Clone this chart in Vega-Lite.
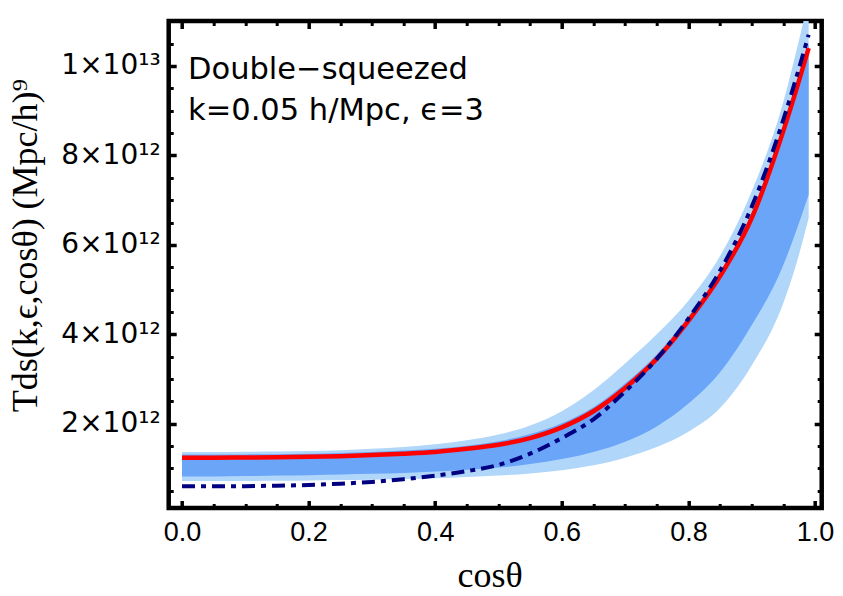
{
  "$schema": "https://vega.github.io/schema/vega-lite/v6.json",
  "width": 653,
  "height": 487,
  "autosize": "none",
  "padding": {"left": 168.7, "top": 21, "right": 21.3, "bottom": 88},
  "background": "white",
  "datasets": {
    "curves": [
      {"c": 0.00, "llo": 0.72e12, "lhi": 1.37e12, "dlo": 0.82e12, "dhi": 1.31e12, "red": 1.24e12, "navy": 0.60e12},
      {"c": 0.05, "llo": 0.72e12, "lhi": 1.37e12, "dlo": 0.82e12, "dhi": 1.31e12, "red": 1.24e12, "navy": 0.60e12},
      {"c": 0.10, "llo": 0.72e12, "lhi": 1.375e12, "dlo": 0.83e12, "dhi": 1.315e12, "red": 1.245e12, "navy": 0.605e12},
      {"c": 0.15, "llo": 0.725e12, "lhi": 1.38e12, "dlo": 0.84e12, "dhi": 1.32e12, "red": 1.25e12, "navy": 0.615e12},
      {"c": 0.20, "llo": 0.73e12, "lhi": 1.39e12, "dlo": 0.85e12, "dhi": 1.33e12, "red": 1.26e12, "navy": 0.63e12},
      {"c": 0.25, "llo": 0.74e12, "lhi": 1.41e12, "dlo": 0.865e12, "dhi": 1.345e12, "red": 1.275e12, "navy": 0.66e12},
      {"c": 0.30, "llo": 0.75e12, "lhi": 1.44e12, "dlo": 0.88e12, "dhi": 1.37e12, "red": 1.30e12, "navy": 0.70e12},
      {"c": 0.35, "llo": 0.765e12, "lhi": 1.48e12, "dlo": 0.90e12, "dhi": 1.40e12, "red": 1.33e12, "navy": 0.76e12},
      {"c": 0.40, "llo": 0.78e12, "lhi": 1.54e12, "dlo": 0.93e12, "dhi": 1.44e12, "red": 1.37e12, "navy": 0.84e12},
      {"c": 0.45, "llo": 0.81e12, "lhi": 1.63e12, "dlo": 0.97e12, "dhi": 1.51e12, "red": 1.44e12, "navy": 0.94e12},
      {"c": 0.50, "llo": 0.84e12, "lhi": 1.76e12, "dlo": 1.02e12, "dhi": 1.61e12, "red": 1.53e12, "navy": 1.08e12},
      {"c": 0.55, "llo": 0.89e12, "lhi": 1.96e12, "dlo": 1.10e12, "dhi": 1.77e12, "red": 1.68e12, "navy": 1.33e12},
      {"c": 0.60, "llo": 0.96e12, "lhi": 2.28e12, "dlo": 1.21e12, "dhi": 2.01e12, "red": 1.92e12, "navy": 1.68e12},
      {"c": 0.65, "llo": 1.07e12, "lhi": 2.75e12, "dlo": 1.37e12, "dhi": 2.37e12, "red": 2.28e12, "navy": 2.10e12},
      {"c": 0.70, "llo": 1.24e12, "lhi": 3.35e12, "dlo": 1.60e12, "dhi": 2.90e12, "red": 2.80e12, "navy": 2.72e12},
      {"c": 0.75, "llo": 1.48e12, "lhi": 4.00e12, "dlo": 1.94e12, "dhi": 3.55e12, "red": 3.45e12, "navy": 3.45e12},
      {"c": 0.80, "llo": 1.82e12, "lhi": 4.75e12, "dlo": 2.45e12, "dhi": 4.40e12, "red": 4.30e12, "navy": 4.35e12},
      {"c": 0.85, "llo": 2.35e12, "lhi": 5.75e12, "dlo": 3.15e12, "dhi": 5.40e12, "red": 5.30e12, "navy": 5.42e12},
      {"c": 0.90, "llo": 3.30e12, "lhi": 7.20e12, "dlo": 4.20e12, "dhi": 6.70e12, "red": 6.60e12, "navy": 6.85e12},
      {"c": 0.95, "llo": 4.70e12, "lhi": 9.20e12, "dlo": 5.55e12, "dhi": 8.65e12, "red": 8.55e12, "navy": 8.80e12},
      {"c": 0.97, "llo": 5.55e12, "lhi": 10.3e12, "dlo": 6.30e12, "dhi": 9.55e12, "red": 9.45e12, "navy": 9.72e12},
      {"c": 0.99, "llo": 6.60e12, "lhi": 11.5e12, "dlo": 7.12e12, "dhi": 10.5e12, "red": 10.4e12, "navy": 10.7e12}
    ]
  },
  "layer": [
    {
      "data": {"name": "curves"},
      "mark": {"type": "area", "color": "#b0d6fa", "clip": true, "opacity": 1, "interpolate": "monotone"},
      "encoding": {
        "x": {"field": "c", "type": "quantitative",
          "scale": {"domain": [-0.021, 1.0106], "nice": false, "zero": false},
          "axis": {
            "orient": "bottom",
            "values": [0, 0.05, 0.1, 0.15, 0.2, 0.25, 0.3, 0.35, 0.4, 0.45, 0.5, 0.55, 0.6, 0.65, 0.7, 0.75, 0.8, 0.85, 0.9, 0.95, 1],
            "domain": false, "grid": false,
            "tickColor": "black",
            "tickSize": {"condition": {"test": "abs(datum.value*5-round(datum.value*5))<0.001", "value": -7.5}, "value": -4.5},
            "tickWidth": {"condition": {"test": "abs(datum.value*5-round(datum.value*5))<0.001", "value": 3.5}, "value": 3},
            "labelExpr": "abs(datum.value*5-round(datum.value*5))<0.001 ? format(datum.value,'.1f') : ''",
            "labelFont": "Liberation Sans", "labelFontSize": 27, "labelColor": "black", "labelPadding": 19,
            "labelOverlap": false, "labelFlush": false, "labelBound": false,
            "title": "cosθ", "titleFont": "Liberation Serif", "titleFontSize": 36, "titleFontWeight": "normal", "titleColor": "black",
            "titleX": 321, "titleY": 78, "titleAlign": "center", "titleBaseline": "alphabetic"
          }
        },
        "y": {"field": "llo", "type": "quantitative",
          "scale": {"domain": [0.116e12, 11.006e12], "nice": false, "zero": false},
          "axis": {
            "orient": "left",
            "values": [0.5e12, 1e12, 1.5e12, 2e12, 2.5e12, 3e12, 3.5e12, 4e12, 4.5e12, 5e12, 5.5e12, 6e12, 6.5e12, 7e12, 7.5e12, 8e12, 8.5e12, 9e12, 9.5e12, 10e12, 10.5e12],
            "domain": false, "grid": false,
            "tickColor": "black",
            "tickSize": {"condition": {"test": "datum.value % 2e12 == 0", "value": -7.5}, "value": -4.5},
            "tickWidth": {"condition": {"test": "datum.value % 2e12 == 0", "value": 3.5}, "value": 3},
            "labelExpr": "datum.value % 2e12 == 0 ? (datum.value == 1e13 ? '1×10¹³' : format(datum.value/1e12,'d') + '×10¹²') : ''",
            "labelFont": "DejaVu Sans", "labelFontSize": 28, "labelColor": "black", "labelPadding": 16,
            "labelOverlap": false, "labelFlush": false, "labelBound": false, "labelLimit": 300,
            "title": "Tds(k,ϵ,cosθ)  (Mpc/h)⁹", "titleFont": "Liberation Serif", "titleFontSize": 36, "titleFontWeight": "normal", "titleColor": "black",
            "titleAngle": 270, "titleX": -132, "titleY": 224, "titleAlign": "center", "titleBaseline": "alphabetic"
          }
        },
        "y2": {"field": "lhi"}
      }
    },
    {
      "data": {"name": "curves"},
      "mark": {"type": "area", "color": "#6aa5f8", "clip": true, "opacity": 1, "interpolate": "monotone"},
      "encoding": {
        "x": {"field": "c", "type": "quantitative",
          "scale": {"domain": [-0.021, 1.0106], "nice": false, "zero": false},
          "axis": {
            "orient": "top",
            "values": [0, 0.05, 0.1, 0.15, 0.2, 0.25, 0.3, 0.35, 0.4, 0.45, 0.5, 0.55, 0.6, 0.65, 0.7, 0.75, 0.8, 0.85, 0.9, 0.95, 1],
            "domain": false, "grid": false, "labels": false, "title": null,
            "tickColor": "black",
            "tickSize": {"condition": {"test": "abs(datum.value*5-round(datum.value*5))<0.001", "value": -7.5}, "value": -4.5},
            "tickWidth": {"condition": {"test": "abs(datum.value*5-round(datum.value*5))<0.001", "value": 3.5}, "value": 3}
          }
        },
        "y": {"field": "dlo", "type": "quantitative",
          "scale": {"domain": [0.116e12, 11.006e12], "nice": false, "zero": false},
          "axis": {
            "orient": "right",
            "values": [0.5e12, 1e12, 1.5e12, 2e12, 2.5e12, 3e12, 3.5e12, 4e12, 4.5e12, 5e12, 5.5e12, 6e12, 6.5e12, 7e12, 7.5e12, 8e12, 8.5e12, 9e12, 9.5e12, 10e12, 10.5e12],
            "domain": false, "grid": false, "labels": false, "title": null,
            "tickColor": "black",
            "tickSize": {"condition": {"test": "datum.value % 2e12 == 0", "value": -7.5}, "value": -4.5},
            "tickWidth": {"condition": {"test": "datum.value % 2e12 == 0", "value": 3.5}, "value": 3}
          }
        },
        "y2": {"field": "dhi"}
      }
    },
    {
      "data": {"name": "curves"},
      "mark": {"type": "line", "color": "#ff0000", "strokeWidth": 4.5, "clip": true, "interpolate": "monotone"},
      "encoding": {
        "x": {"field": "c", "type": "quantitative", "scale": {"domain": [-0.021, 1.0106], "nice": false, "zero": false}, "axis": null},
        "y": {"field": "red", "type": "quantitative", "scale": {"domain": [0.116e12, 11.006e12], "nice": false, "zero": false}, "axis": null}
      }
    },
    {
      "data": {"name": "curves"},
      "mark": {"type": "line", "color": "#000080", "strokeWidth": 4, "strokeDash": [13, 6, 5, 6], "clip": true, "interpolate": "monotone"},
      "encoding": {
        "x": {"field": "c", "type": "quantitative", "scale": {"domain": [-0.021, 1.0106], "nice": false, "zero": false}, "axis": null},
        "y": {"field": "navy", "type": "quantitative", "scale": {"domain": [0.116e12, 11.006e12], "nice": false, "zero": false}, "axis": null}
      }
    },
    {
      "data": {"values": [{"note": ["Double−squeezed", "k=0.05 h/Mpc, ϵ=3"]}]},
      "mark": {"type": "text", "font": "DejaVu Sans", "fontSize": 30.5, "lineHeight": 41, "align": "left", "baseline": "alphabetic", "color": "black"},
      "encoding": {
        "text": {"field": "note"},
        "x": {"datum": 0.0095, "type": "quantitative", "scale": {"domain": [-0.021, 1.0106], "nice": false, "zero": false}, "axis": null},
        "y": {"datum": 9.71e12, "type": "quantitative", "scale": {"domain": [0.116e12, 11.006e12], "nice": false, "zero": false}, "axis": null}
      }
    }
  ],
  "resolve": {"axis": {"x": "independent", "y": "independent"}},
  "config": {
    "view": {"stroke": "black", "strokeWidth": 4.5},
    "axis": {"grid": false}
  }
}
